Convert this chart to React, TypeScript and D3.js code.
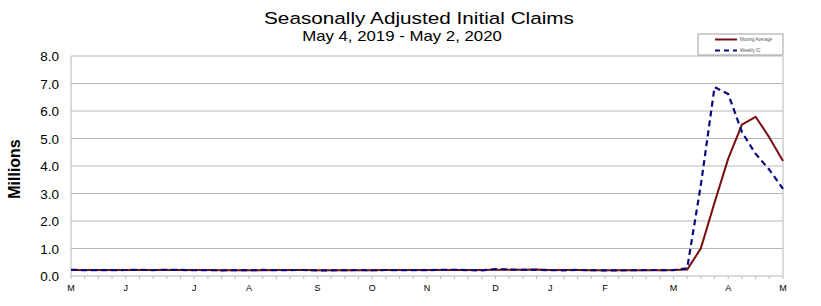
import React from "react";
import * as d3 from "d3";

const weeks: string[] = [
  "2019-05-04","2019-05-11","2019-05-18","2019-05-25","2019-06-01","2019-06-08","2019-06-15","2019-06-22","2019-06-29",
  "2019-07-06","2019-07-13","2019-07-20","2019-07-27","2019-08-03","2019-08-10","2019-08-17","2019-08-24","2019-08-31",
  "2019-09-07","2019-09-14","2019-09-21","2019-09-28","2019-10-05","2019-10-12","2019-10-19","2019-10-26","2019-11-02",
  "2019-11-09","2019-11-16","2019-11-23","2019-11-30","2019-12-07","2019-12-14","2019-12-21","2019-12-28","2020-01-04",
  "2020-01-11","2020-01-18","2020-01-25","2020-02-01","2020-02-08","2020-02-15","2020-02-22","2020-02-29","2020-03-07",
  "2020-03-14","2020-03-21","2020-03-28","2020-04-04","2020-04-11","2020-04-18","2020-04-25","2020-05-02",
];

const weeklyIC: number[] = [
  0.228,0.212,0.212,0.215,0.218,0.222,0.216,0.227,0.221,
  0.209,0.216,0.206,0.217,0.209,0.221,0.211,0.217,0.219,
  0.204,0.208,0.213,0.219,0.210,0.218,0.212,0.217,0.211,
  0.225,0.227,0.213,0.203,0.252,0.235,0.222,0.220,0.212,
  0.207,0.220,0.214,0.202,0.205,0.211,0.219,0.217,0.211,
  0.282,3.307,6.867,6.615,5.237,4.442,3.867,3.169,
];

const movingAverage: number[] = [
  0.220,0.221,0.218,0.217,0.214,0.217,0.218,0.221,0.222,
  0.218,0.218,0.213,0.212,0.212,0.213,0.215,0.215,0.217,
  0.213,0.212,0.211,0.211,0.213,0.214,0.217,0.215,0.215,
  0.216,0.220,0.219,0.217,0.224,0.228,0.228,0.232,0.222,
  0.215,0.215,0.213,0.211,0.210,0.210,0.209,0.213,0.215,
  0.232,1.004,2.667,4.268,5.507,5.790,5.040,4.179,
];

const monthLabels: { idx: number; label: string }[] = [
  { idx: 0, label: "M" }, { idx: 4, label: "J" }, { idx: 9, label: "J" }, { idx: 13, label: "A" },
  { idx: 18, label: "S" }, { idx: 22, label: "O" }, { idx: 26, label: "N" }, { idx: 31, label: "D" },
  { idx: 35, label: "J" }, { idx: 39, label: "F" }, { idx: 44, label: "M" }, { idx: 48, label: "A" },
  { idx: 52, label: "M" },
];

const yTicks: number[] = [0, 1, 2, 3, 4, 5, 6, 7, 8];

const title = "Seasonally Adjusted Initial Claims";
const subtitle = "May 4, 2019 - May 2, 2020";
const yTitle = "Millions";
const seriesNames = ["Moving Average", "Weekly IC"];

export default function App() {
  const W = 821, H = 306;
  const left = 71, right = 783, top = 56, bottom = 276;
  const x = d3.scaleLinear().domain([0, weeks.length - 1]).range([left, right]);
  const y = d3.scaleLinear().domain([0, 8]).range([bottom, top]);
  const line = d3.line<number>().x((_, i) => x(i)).y((d) => y(d));
  const font = "'Liberation Sans', Arial, sans-serif";
  const grid = "#b8b8b8";
  const red = "#7a0e0e";
  const blue = "#0a0a80";

  return (
    <svg width={W} height={H} style={{ position: "absolute", left: 0, top: 0, background: "#fff" }} fontFamily={font}>
      <rect width={W} height={H} fill="#fff" />
      <text transform="translate(419,24) scale(1.22,1)" textAnchor="middle" fontSize={17} fill="#000">{title}</text>
      <text transform="translate(402,41) scale(1.2,1)" textAnchor="middle" fontSize={14} fill="#000">{subtitle}</text>

      {yTicks.map((t) => (
        <g key={t}>
          <line x1={left} x2={right} y1={y(t)} y2={y(t)} stroke={grid} strokeWidth={1} />
          <text x={59} y={y(t) + 5} textAnchor="end" fontSize={13.5} fill="#000">{t.toFixed(1)}</text>
        </g>
      ))}
      <line x1={left} x2={left} y1={top} y2={bottom} stroke={grid} />
      <line x1={right} x2={right} y1={top} y2={bottom} stroke={grid} />
      {weeks.map((_, i) => (
        <line key={i} x1={x(i)} x2={x(i)} y1={bottom} y2={bottom + 3} stroke={grid} />
      ))}
      {monthLabels.map((m, k) => (
        <text key={k} x={x(m.idx)} y={291} textAnchor="middle" fontSize={9} fill="#000">{m.label}</text>
      ))}

      <text transform="translate(20,169) rotate(-90)" textAnchor="middle" fontSize={16} fontWeight="bold" fill="#000">{yTitle}</text>

      <path d={line(movingAverage) || ""} fill="none" stroke={red} strokeWidth={2} strokeLinejoin="round" />
      <path d={line(weeklyIC) || ""} fill="none" stroke={blue} strokeWidth={2.2} strokeDasharray="6,4" />

      <g>
        <rect x={698} y={34} width={85} height={21} fill="#fff" stroke="#888" strokeWidth={0.8} />
        <line x1={715} x2={737} y1={39.5} y2={39.5} stroke={red} strokeWidth={2} />
        <text x={740} y={41} fontSize={4.5} fill="#555">{seriesNames[0]}</text>
        <line x1={715} x2={737} y1={50.5} y2={50.5} stroke={blue} strokeWidth={2} strokeDasharray="5,4" />
        <text x={740} y={52} fontSize={4.5} fill="#555">{seriesNames[1]}</text>
      </g>
    </svg>
  );
}
